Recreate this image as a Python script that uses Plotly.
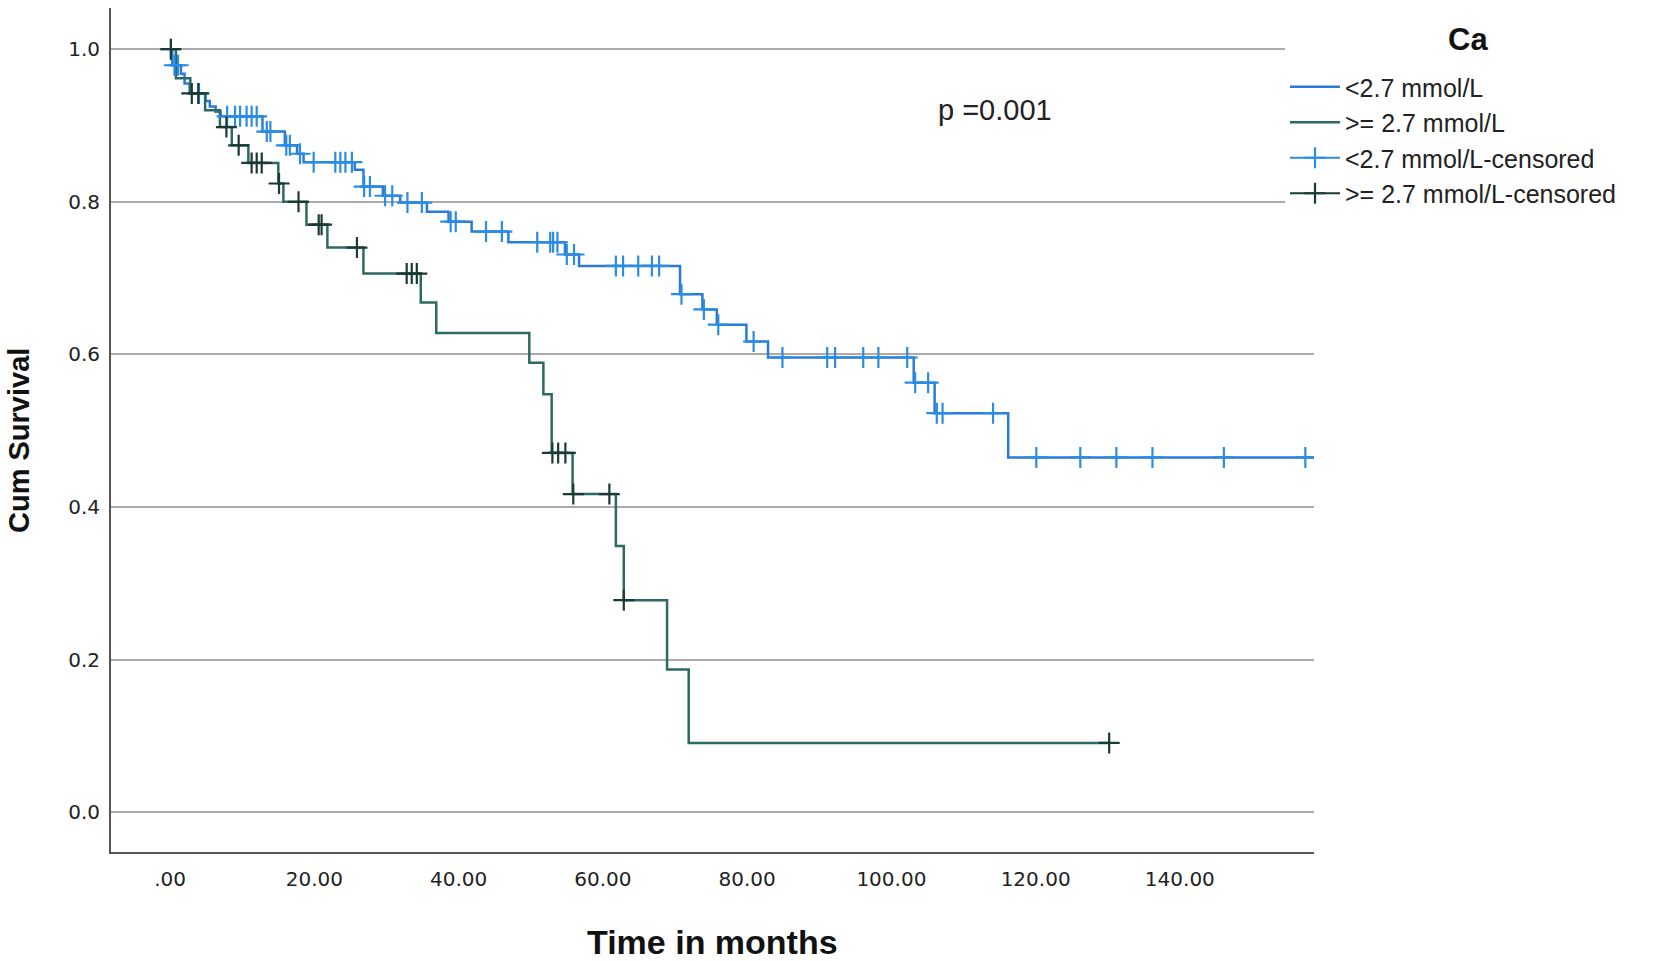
import numpy as np
import plotly.graph_objects as go

# ---- data ----
# <2.7 mmol/L : event times (months) and survival right after each drop
low_t = [0.3, 1.5, 2.0, 2.7, 4.9, 5.5, 6.3, 7.0, 12.8, 15.9, 17.6, 18.5, 25.6, 26.8,
         29.5, 31.9, 35.6, 38.6, 41.8, 46.9, 54.75, 56.7, 70.7, 73.8, 75.8, 79.9,
         82.9, 103.1, 106.0, 116.2]
low_s = [0.979, 0.968, 0.955, 0.942, 0.932, 0.925, 0.918, 0.912, 0.892, 0.874, 0.863,
         0.852, 0.842, 0.820, 0.808, 0.799, 0.787, 0.774, 0.761, 0.747, 0.731, 0.716,
         0.679, 0.659, 0.639, 0.617, 0.596, 0.563, 0.523, 0.465]
low_end = 159.0
low_cens = [0.1, 0.6, 1.1, 4.0, 7.9, 9.0, 9.7, 10.6, 11.3, 12.0, 13.4, 13.9, 16.1, 16.6,
            18.0, 19.9, 22.9, 23.6, 24.3, 25.2, 26.9, 27.7, 29.8, 30.8, 32.9, 34.9,
            38.9, 39.6, 43.8, 46.0, 50.9, 52.7, 53.1, 53.7, 55.0, 56.0, 61.8, 62.8,
            64.9, 66.8, 67.8, 70.9, 74.0, 76.0, 80.9, 84.9, 91.1, 92.2, 96.1, 98.2,
            102.2, 103.3, 105.1, 106.3, 107.1, 114.1, 120.1, 126.2, 131.2, 136.2,
            146.1, 157.4]

# >= 2.7 mmol/L
high_t = [0.8, 2.8, 4.85, 6.9, 8.55, 10.85, 15.0, 15.7, 18.9, 21.8, 26.8, 34.75, 36.9,
          49.8, 51.75, 52.9, 55.8, 61.8, 62.9, 68.9, 71.9]
high_s = [0.962, 0.942, 0.920, 0.898, 0.874, 0.851, 0.824, 0.800, 0.770, 0.740, 0.706,
          0.668, 0.628, 0.589, 0.548, 0.471, 0.417, 0.349, 0.278, 0.187, 0.091]
high_end = 130.2
high_cens = [0.1, 3.0, 3.9, 7.8, 9.5, 11.3, 12.0, 12.7, 15.1, 17.8, 20.6, 21.0, 25.9,
             32.8, 33.5, 34.2, 53.0, 53.8, 54.8, 55.9, 60.9, 62.9, 130.2]

x_ticks = [0, 20, 40, 60, 80, 100, 120, 140]
x_ticktext = [".00", "20.00", "40.00", "60.00", "80.00", "100.00", "120.00", "140.00"]
y_ticks = [0.0, 0.2, 0.4, 0.6, 0.8, 1.0]

# colours
low_line, low_mark = "#2a7bd9", "#2b8ce4"
high_line, high_mark = "#2c6a62", "#1b3a35"

# plot area in pixels (left, right margin, top, bottom margin)
L, R, T, B = 111, 340, 8, 109
PW, PH = 1654 - L - R, 961 - T - B


def px_x(px):
    return (px - L) / PW


def px_y(py):
    return (961 - B - py) / PH


def step_xy(times, surv, end):
    return [0] + list(times) + [end], [1.0] + list(surv) + [surv[-1]]


def cens_xy(times, surv, cens):
    # survival level of the curve at each censored time; None between points so
    # no line joins them (the line only shows up in the legend symbol)
    s = np.array([1.0] + list(surv))
    idx = np.searchsorted(np.array(times), np.array(cens), side="right")
    xs, ys = [], []
    for c, v in zip(cens, s[idx]):
        xs += [c, None]
        ys += [float(v), None]
    return xs, ys


fig = go.Figure()

lx, ly = step_xy(low_t, low_s, low_end)
hx, hy = step_xy(high_t, high_s, high_end)
lcx, lcy = cens_xy(low_t, low_s, low_cens)
hcx, hcy = cens_xy(high_t, high_s, high_cens)

fig.add_trace(go.Scatter(x=lx, y=ly, mode="lines", line_shape="hv", name="<2.7 mmol/L",
                         legendgroup="a", line=dict(color=low_line, width=2.5)))
fig.add_trace(go.Scatter(x=hx, y=hy, mode="lines", line_shape="hv", name=">= 2.7 mmol/L",
                         legendgroup="b", line=dict(color=high_line, width=2.5)))
fig.add_trace(go.Scatter(x=lcx, y=lcy, mode="lines+markers", connectgaps=False,
                         name="<2.7 mmol/L-censored", legendgroup="c",
                         line=dict(color=low_mark, width=2),
                         marker=dict(symbol="cross-thin", size=15,
                                     line=dict(color=low_mark, width=2.2))))
fig.add_trace(go.Scatter(x=hcx, y=hcy, mode="lines+markers", connectgaps=False,
                         name=">= 2.7 mmol/L-censored", legendgroup="d",
                         line=dict(color=high_mark, width=2),
                         marker=dict(symbol="cross-thin", size=15,
                                     line=dict(color=high_mark, width=2.2))))

# white patch so the top gridline stops at the legend, like the original
fig.add_shape(type="rect", xref="paper", yref="paper", x0=px_x(1285), x1=1.0,
              y0=px_y(78), y1=px_y(28), fillcolor="white", line_width=0, layer="above")

fig.add_annotation(x=px_x(1468), y=px_y(39), xref="paper", yref="paper", text="<b>Ca</b>",
                   xanchor="center", yanchor="middle", showarrow=False,
                   font=dict(family="Liberation Sans", size=31, color="#111"))
fig.add_annotation(x=114.4, y=0.92, xref="x", yref="y", text="p =0.001", showarrow=False,
                   font=dict(family="Liberation Sans", size=29, color="#222"))
# axis titles
fig.add_annotation(x=px_x(712), y=px_y(942), xref="paper", yref="paper",
                   text="<b>Time in months</b>", xanchor="center", yanchor="middle",
                   showarrow=False, font=dict(family="Liberation Sans", size=34, color="#111"))
fig.add_annotation(x=px_x(19), y=px_y(440), xref="paper", yref="paper",
                   text="<b>Cum Survival</b>", textangle=-90, xanchor="center",
                   yanchor="middle", showarrow=False,
                   font=dict(family="Liberation Sans", size=29, color="#111"))

fig.update_layout(
    width=1654, height=961,
    margin=dict(l=L, r=R, t=T, b=B),
    paper_bgcolor="white", plot_bgcolor="white",
    font=dict(family="DejaVu Sans", color="#222"),
    legend=dict(
        x=px_x(1285), y=px_y(64), xanchor="left", yanchor="top",
        bgcolor="white", tracegroupgap=0, itemwidth=50,
        font=dict(family="Liberation Sans", size=25, color="#222"),
    ),
    xaxis=dict(
        range=[-8.2, 158.6], tickvals=x_ticks, ticktext=x_ticktext,
        showgrid=False, zeroline=False, showline=True, linecolor="#555", linewidth=2,
        ticks="", ticklabelstandoff=8, tickfont=dict(size=20, color="#222"),
    ),
    yaxis=dict(
        range=[-0.052, 1.054], tickvals=y_ticks, tickformat=".1f",
        showgrid=True, gridcolor="#ababab", gridwidth=2, zeroline=False,
        showline=True, linecolor="#555", linewidth=2,
        ticks="", ticklabelstandoff=5, tickfont=dict(size=20, color="#222"),
    ),
)

# drop the browser's default 8px page margin so the figure sits at the window corner
fig.write_html("out.html", config={"displayModeBar": False},
               post_script="document.body.style.margin='0';")
